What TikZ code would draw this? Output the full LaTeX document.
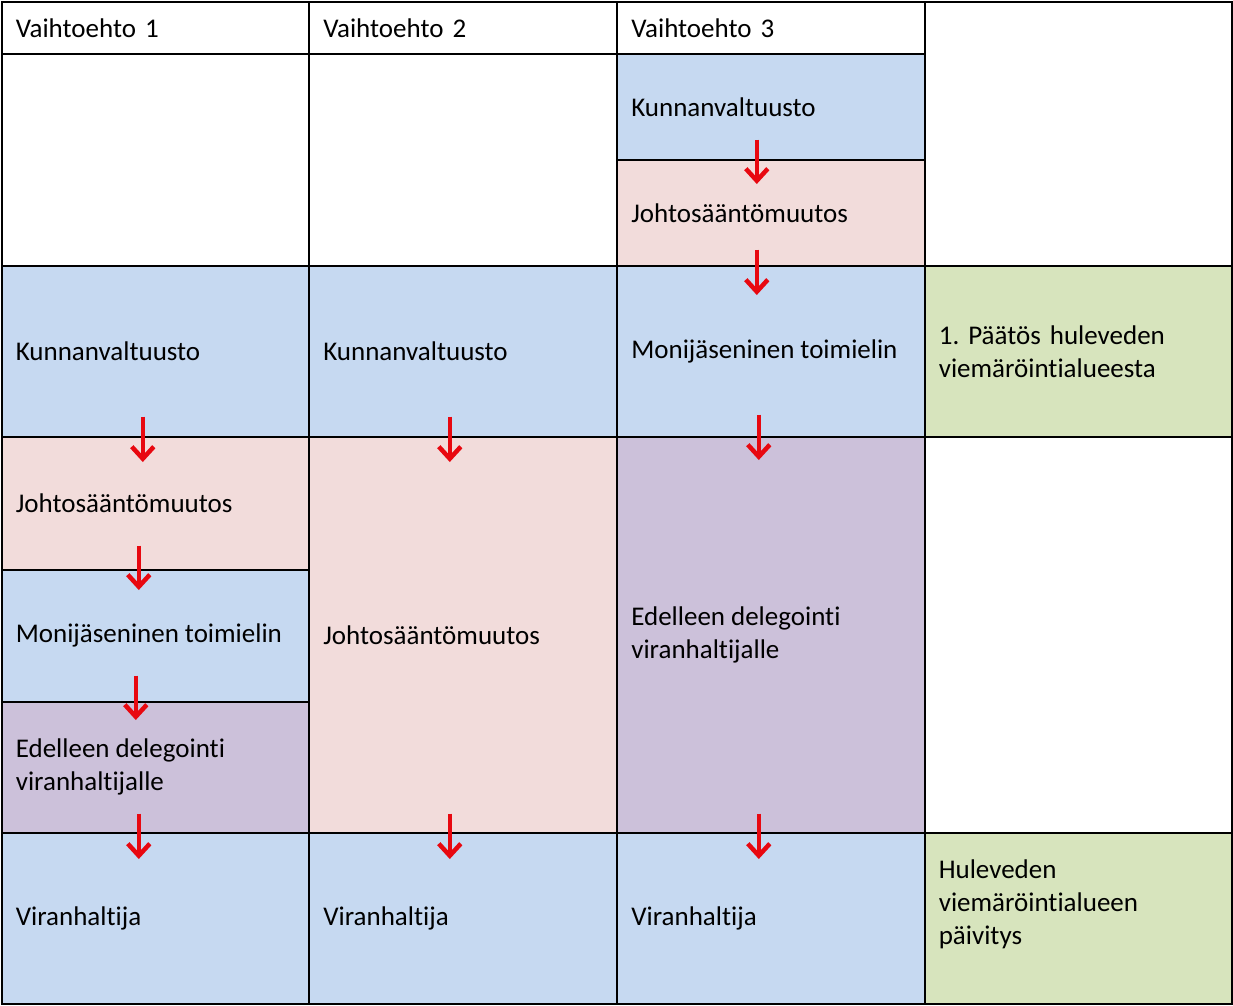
\documentclass[tikz,border=0pt]{standalone}
\usepackage{fontspec}
\setmainfont[Ligatures={NoCommon,NoRare},RawFeature=-calt]{Carlito}
\usetikzlibrary{arrows.meta,calc}
\definecolor{cblue}{HTML}{C6D9F1}
\definecolor{cpink}{HTML}{F2DCDB}
\definecolor{cpurple}{HTML}{CCC1DA}
\definecolor{cgreen}{HTML}{D7E4BD}
\definecolor{cred}{RGB}{232,8,16}
\newcommand\gap{\hspace{0.22em}}
\newcommand\cellnode[7]{\node[cell,fill=#6,minimum width=#4pt,minimum height=#5pt] (#1) at (#2,#3) {#7};}
\tikzset{
  cell/.style={draw=black, line width=1.6pt, inner xsep=14pt, inner ysep=0pt,
    anchor=north west, align=left, text width=279pt,
    font=\fontsize{27}{33}\selectfont\frenchspacing},
  flow/.style={draw=cred, line width=3.5pt, -{Straight Barb[length=12pt,width=22pt,line width=4.5pt 0]}}
}
\begin{document}
\begin{tikzpicture}[x=1pt,y=-1pt]
\useasboundingbox (0,0) rectangle (1233,1005);
% column 1
\cellnode{h1}{1}{1}{307}{52}{white}{Vaihtoehto 1}
\cellnode{e1}{1}{53}{307}{212}{white}{}
\cellnode{a1}{1}{265}{307}{171}{cblue}{Kunnanvaltuusto}
\cellnode{b1}{1}{436}{307}{133}{cpink}{Johtosääntömuutos}
\cellnode{c1}{1}{569}{307}{132}{cblue}{Monijäseninen\gap toimielin}
\cellnode{d1}{1}{701}{307}{131}{cpurple}{Edelleen\gap delegointi\\viranhaltijalle}
\cellnode{v1}{1}{832}{307}{171}{cblue}{Viranhaltija}
% column 2
\cellnode{h2}{308}{1}{308}{52}{white}{Vaihtoehto 2}
\cellnode{e2}{308}{53}{308}{212}{white}{}
\cellnode{a2}{308}{265}{308}{171}{cblue}{Kunnanvaltuusto}
\cellnode{b2}{308}{436}{308}{396}{cpink}{Johtosääntömuutos}
\cellnode{v2}{308}{832}{308}{171}{cblue}{Viranhaltija}
% column 3
\cellnode{h3}{616}{1}{308}{52}{white}{Vaihtoehto 3}
\cellnode{k3}{616}{53}{308}{106}{cblue}{Kunnanvaltuusto}
\cellnode{j3}{616}{159}{308}{106}{cpink}{Johtosääntömuutos}
\cellnode{a3}{616}{265}{308}{171}{cblue}{Monijäseninen\gap toimielin}
\cellnode{d3}{616}{436}{308}{396}{cpurple}{Edelleen\gap delegointi\\viranhaltijalle}
\cellnode{v3}{616}{832}{308}{171}{cblue}{Viranhaltija}
% column 4
\cellnode{t4}{924}{1}{307}{264}{white}{}
\cellnode{g4}{924}{265}{307}{171}{cgreen}{1. Päätös huleveden\\viemäröintialueesta}
\cellnode{w4}{924}{436}{307}{396}{white}{}
\cellnode{u4}{924}{832}{307}{171}{cgreen}{Huleveden\\viemäröintialueen\\päivitys\\\mbox{}}
% arrows
\draw[flow] ([xshift=-14pt,yshift=21pt]k3.south) -- ([xshift=-14pt,yshift=-25pt]j3.north);
\draw[flow] ([xshift=-14pt,yshift=17pt]j3.south) -- ([xshift=-14pt,yshift=-30pt]a3.north);
\draw[flow] ([xshift=-12.5pt,yshift=21pt]a1.south) -- ([xshift=-12.5pt,yshift=-26pt]b1.north);
\draw[flow] ([xshift=-16.5pt,yshift=25pt]b1.south) -- ([xshift=-16.5pt,yshift=-21pt]c1.north);
\draw[flow] ([xshift=-19.5pt,yshift=27pt]c1.south) -- ([xshift=-19.5pt,yshift=-19pt]d1.north);
\draw[flow] ([xshift=-16.5pt,yshift=20pt]d1.south) -- ([xshift=-16.5pt,yshift=-27pt]v1.north);
\draw[flow] ([xshift=-13pt,yshift=21pt]a2.south) -- ([xshift=-13pt,yshift=-26pt]b2.north);
\draw[flow] ([xshift=-13pt,yshift=20pt]b2.south) -- ([xshift=-13pt,yshift=-27pt]v2.north);
\draw[flow] ([xshift=-12pt,yshift=23pt]a3.south) -- ([xshift=-12pt,yshift=-24pt]d3.north);
\draw[flow] ([xshift=-12pt,yshift=20pt]d3.south) -- ([xshift=-12pt,yshift=-27pt]v3.north);
\end{tikzpicture}
\end{document}
